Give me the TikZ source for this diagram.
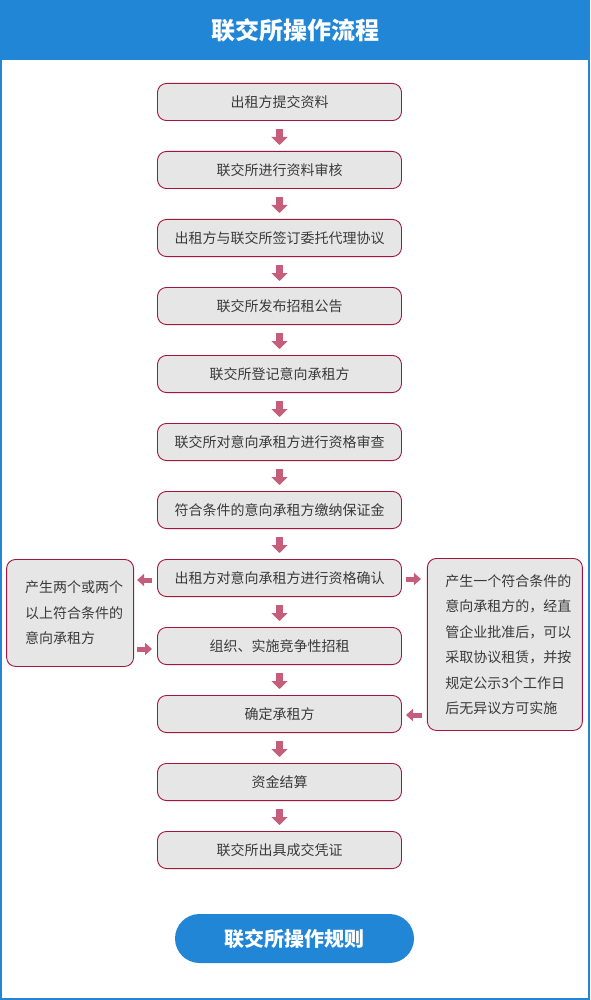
\documentclass[tikz,border=0pt]{standalone}
\usepackage{fontspec}
\setmainfont{Noto Sans CJK SC}
\usetikzlibrary{positioning,arrows.meta}
\definecolor{hdrblue}{HTML}{2186D6}
\definecolor{boxred}{HTML}{A0163E}
\definecolor{boxgray}{HTML}{E6E6E6}
\definecolor{txtgray}{HTML}{3A3A3A}
\definecolor{arrowpink}{HTML}{C45E7C}

\begin{document}
\begin{tikzpicture}[x=1pt, y=1pt,
      every node/.style={font=\fontsize{14}{25.5}\selectfont, text=txtgray, align=center},
      stepbox/.style={rectangle, draw=boxred, fill=boxgray, line width=0.9pt,
                      rounded corners=9pt, minimum width=244pt, minimum height=37.1pt,
                      inner sep=0pt},
      sidebox/.style={stepbox, align=left, minimum width=0pt, minimum height=0pt},
      blk/.style={-{Triangle[length=8pt, width=16pt]}, line width=7pt, arrowpink,
                  shorten <=8pt, shorten >=6pt},
      sideblk/.style={-{Triangle[length=7pt, width=12pt]}, line width=5pt, arrowpink},
    ]
    \useasboundingbox (0,0) rectangle (590,-1000);
    % header band and frame
    \fill[hdrblue] (0,0) rectangle (590,-60);
    \draw[hdrblue, line width=2pt] (1,-1) rectangle (589,-999);
    \node[font=\fontsize{24}{28}\selectfont\bfseries, text=white] (title) at (295.5,-30) {联交所操作流程};
    % main chain
    \node[stepbox] (submit) at (279.5,-102) {出租方提交资料};
    \node[stepbox, below=30pt of submit] (review) {联交所进行资料审核};
    \node[stepbox, below=30pt of review] (sign) {出租方与联交所签订委托代理协议};
    \node[stepbox, below=30pt of sign] (notice) {联交所发布招租公告};
    \node[stepbox, below=30pt of notice] (register) {联交所登记意向承租方};
    \node[stepbox, below=30pt of register] (check) {联交所对意向承租方进行资格审查};
    \node[stepbox, below=30pt of check] (deposit) {符合条件的意向承租方缴纳保证金};
    \node[stepbox, below=30pt of deposit] (confirm) {出租方对意向承租方进行资格确认};
    \node[stepbox, below=30pt of confirm] (bidding) {组织、实施竞争性招租};
    \node[stepbox, below=30pt of bidding] (lessee) {确定承租方};
    \node[stepbox, below=30pt of lessee] (settle) {资金结算};
    \node[stepbox, below=30pt of settle] (voucher) {联交所出具成交凭证};
    % the two outcomes of the confirmation
    \node[sidebox, text width=90pt, minimum width=127pt, minimum height=107pt,
          anchor=north east] (multi) at ([xshift=-23pt]confirm.north west)
          {产生两个或两个\\以上符合条件的\\意向承租方};
    \node[sidebox, text width=119pt, minimum width=155pt, minimum height=172pt,
          anchor=north west] (single) at ([xshift=25pt, yshift=1pt]confirm.north east)
          {产生一个符合条件的\\意向承租方的，经直\\管企业批准后，可以\\采取协议租赁，并按\\规定公示3个工作日\\后无异议方可实施};
    \node[rectangle, fill=hdrblue, rounded corners=24.5pt, minimum width=239pt,
          minimum height=49pt, inner sep=0pt,
          font=\fontsize{20}{24}\selectfont\bfseries, text=white] (rules) at (294.5,-938.5) {联交所操作规则};
    \draw[blk] (submit) -- (review);
    \draw[blk] (review) -- (sign);
    \draw[blk] (sign) -- (notice);
    \draw[blk] (notice) -- (register);
    \draw[blk] (register) -- (check);
    \draw[blk] (check) -- (deposit);
    \draw[blk] (deposit) -- (confirm);
    \draw[blk] (confirm) -- (bidding);
    \draw[blk] (bidding) -- (lessee);
    \draw[blk] (lessee) -- (settle);
    \draw[blk] (settle) -- (voucher);
    \draw[sideblk, shorten <=5pt, shorten >=3pt] ([yshift=-2pt]confirm.west) -- ([yshift=-2pt]confirm.west -| multi.east);
    \draw[sideblk, shorten <=3pt, shorten >=5pt] ([yshift=-3pt]bidding.west -| multi.east) -- ([yshift=-3pt]bidding.west);
    \draw[sideblk, shorten <=4pt, shorten >=6pt] ([yshift=-1pt]confirm.east) -- ([yshift=-1pt]confirm.east -| single.west);
    \draw[sideblk, shorten <=5pt, shorten >=4pt] ([yshift=-1pt]lessee.east -| single.west) -- ([yshift=-1pt]lessee.east);
  \end{tikzpicture}
\end{document}
